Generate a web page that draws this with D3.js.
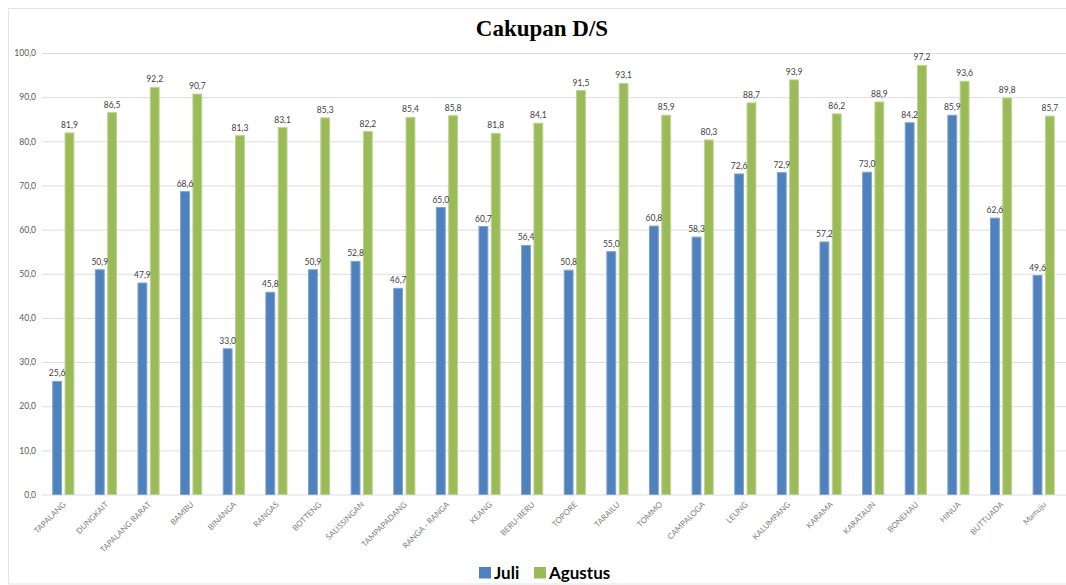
<!DOCTYPE html>
<html>
<head>
<meta charset="utf-8">
<script src="https://cdn.jsdelivr.net/npm/d3@7"></script>
<style>
  html, body { margin: 0; padding: 0; background: #fff; }
  svg { display: block; }
</style>
</head>
<body>
<svg id="chart" width="1066" height="585"></svg>
<script>
// Desa / kelurahan yang dilaporkan
const categories = ["TAPALANG", "DUNGKAIT", "TAPALANG BARAT", "BAMBU", "BINANGA", "RANGAS",
  "BOTTENG", "SALISSINGAN", "TAMPAPADANG", "RANGA - RANGA", "KEANG", "BERU-BERU",
  "TOPORE", "TARAILU", "TOMMO", "CAMPALOGA", "LEUNG", "KALUMPANG", "KARAMA",
  "KARATAUN", "BONEHAU", "HINUA", "BUTTUADA", "Mamuju"];

const seriesNames = ["Juli", "Agustus"];

const juli = [25.6, 50.9, 47.9, 68.6, 33.0, 45.8, 50.9, 52.8, 46.7, 65.0, 60.7, 56.4,
  50.8, 55.0, 60.8, 58.3, 72.6, 72.9, 57.2, 73.0, 84.2, 85.9, 62.6, 49.6];

const agustus = [81.9, 86.5, 92.2, 90.7, 81.3, 83.1, 85.3, 82.2, 85.4, 85.8, 81.8, 84.1,
  91.5, 93.1, 85.9, 80.3, 88.7, 93.9, 86.2, 88.9, 97.2, 93.6, 89.8, 85.7];

const yTicks = [0, 10, 20, 30, 40, 50, 60, 70, 80, 90, 100];

const colors = { "Juli": "#4f81bd", "Agustus": "#9bbb59" };
const edge = { "Juli": "#7ea3d3", "Agustus": "#bdd48f" };

const svg = d3.select("#chart");
const fmt = v => d3.format(".1f")(v).replace(".", ",");

const plotLeft = 42, plotRight = 1065, plotTop = 53, plotBottom = 494.5;

// outer frame
svg.append("rect")
  .attr("x", 8.5).attr("y", 8.5)
  .attr("width", 1070).attr("height", 575.5)
  .attr("fill", "none").attr("stroke", "#e3e3e3").attr("stroke-width", 1);

const x0 = d3.scaleBand().domain(categories).range([plotLeft, plotRight])
  .paddingInner(0.48).paddingOuter(0.24);
const x1 = d3.scaleBand().domain(seriesNames).range([0, x0.bandwidth()]).paddingInner(0.2);
const y = d3.scaleLinear().domain([0, 100]).range([plotBottom, plotTop]);

// gridlines + y labels
const yAxis = d3.axisLeft(y).tickValues(yTicks).tickSize(-(1066 - plotLeft)).tickFormat(fmt).tickPadding(6);
const gy = svg.append("g").attr("transform", `translate(${plotLeft},0)`).call(yAxis);
gy.select(".domain").remove();
gy.selectAll(".tick line").attr("stroke", "#dedede").attr("stroke-width", 1);
gy.selectAll(".tick text")
  .attr("fill", "#595959").attr("font-family", "Lato, 'Open Sans', sans-serif")
  .attr("font-size", 8.5);

// x axis labels, slanted
const xAxis = d3.axisBottom(x0).tickSize(0).tickPadding(0);
const gx = svg.append("g").attr("transform", `translate(0,${plotBottom})`).call(xAxis);
gx.select(".domain").remove();
gx.selectAll(".tick text")
  .attr("fill", "#7f7f7f").attr("font-family", "Lato, 'Open Sans', sans-serif")
  .attr("font-size", 8)
  .attr("text-anchor", "end")
  .attr("dy", 0).attr("y", 0)
  .attr("transform", "translate(3,10.5) rotate(-45)");

const rows = categories.map((c, i) => ({ cat: c, vals: [
  { key: "Juli", value: juli[i] }, { key: "Agustus", value: agustus[i] }] }));

const groups = svg.append("g").selectAll("g").data(rows).join("g")
  .attr("transform", d => `translate(${x0(d.cat)},0)`);

groups.selectAll("rect").data(d => d.vals).join("rect")
  .attr("x", d => x1(d.key) + 0.5)
  .attr("y", d => y(d.value))
  .attr("width", x1.bandwidth() - 1)
  .attr("height", d => plotBottom - y(d.value))
  .attr("fill", d => colors[d.key])
  .attr("stroke", d => edge[d.key]).attr("stroke-width", 1);

groups.selectAll("text").data(d => d.vals).join("text")
  .attr("x", d => x1(d.key) + x1.bandwidth() / 2)
  .attr("y", d => y(d.value) - 5)
  .attr("text-anchor", "middle")
  .attr("fill", "#404040").attr("font-family", "Lato, 'Open Sans', sans-serif")
  .attr("font-size", 8.5)
  .text(d => fmt(d.value));

// title
svg.append("text")
  .attr("x", 542).attr("y", 36)
  .attr("text-anchor", "middle")
  .attr("font-family", "'Liberation Serif', 'Times New Roman', serif")
  .attr("font-weight", "bold").attr("font-size", 23)
  .attr("fill", "#000")
  .text("Cakupan D/S");

// legend
const legend = svg.append("g").attr("transform", "translate(479,567)");
const items = [{ key: "Juli", x: 0 }, { key: "Agustus", x: 55 }];
const li = legend.selectAll("g").data(items).join("g")
  .attr("transform", d => `translate(${d.x},0)`);
li.append("rect").attr("width", 12).attr("height", 11.5).attr("fill", d => colors[d.key]);
li.append("text").attr("x", 15).attr("y", 11.5)
  .attr("font-family", "Lato, 'Open Sans', sans-serif").attr("font-weight", "bold")
  .attr("font-size", 17).attr("fill", "#000")
  .text(d => d.key);
</script>
</body>
</html>
